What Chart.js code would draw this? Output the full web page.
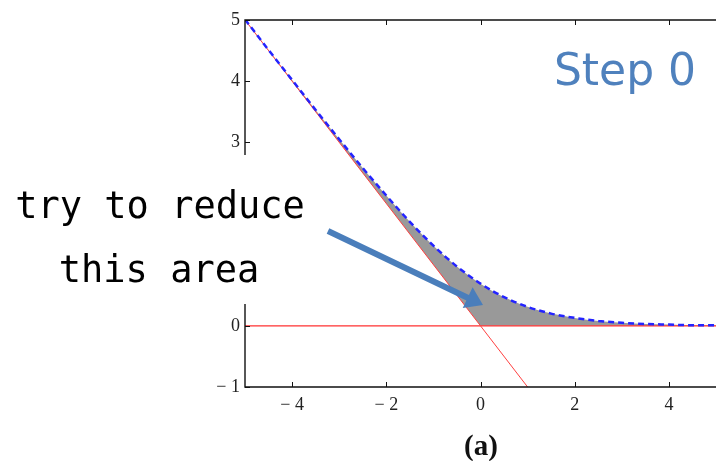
<!DOCTYPE html>
<html>
<head>
<meta charset="utf-8">
<script src="https://cdn.jsdelivr.net/npm/chart.js@4"></script>
<style>
  html, body { margin: 0; padding: 0; background: #fff; }
  #wrap { width: 716px; height: 461px; }
</style>
</head>
<body>
<div id="wrap"><canvas id="chart" width="716" height="461"></canvas></div>
<script>
// x positions where the curve was read
const xs = [-5, -4.5, -4, -3.5, -3, -2.5, -2, -1.5, -1, -0.5, 0, 0.5, 1, 1.5, 2, 2.5, 3, 3.5, 4, 4.5, 5];
// blue dashed curve (smooth loss)
const curveY = [5.01, 4.51, 4.02, 3.53, 3.05, 2.58, 2.13, 1.70, 1.31, 0.97, 0.69, 0.47, 0.31, 0.20, 0.13, 0.08, 0.05, 0.03, 0.02, 0.01, 0.01];
// lower edge of the grey area (hinge)
const hingeY = [5, 4.5, 4, 3.5, 3, 2.5, 2, 1.5, 1, 0.5, 0, 0, 0, 0, 0, 0, 0, 0, 0, 0, 0];
// red diagonal line
const diagX = [-5, 1];
const diagY = [5, -1];
// red zero line
const zeroX = [-5, 5];
const zeroY = [0, 0];
// ticks
const xTicks = [-4, -2, 0, 2, 4];
const yTicks = [-1, 0, 1, 2, 3, 4, 5];

const pts = (a, b) => a.map((v, i) => ({ x: v, y: b[i] }));
const fmt = (v) => v < 0 ? '\u2212 ' + Math.abs(v) : String(v);

const frame = {
    id: 'frame',
    afterDraw(chart) {
        const { ctx, chartArea: a, scales } = chart;
        ctx.save();
        // axes box (top, left, bottom)
        ctx.strokeStyle = '#111';
        ctx.lineWidth = 1.4;
        ctx.beginPath();
        ctx.moveTo(a.right + 2, a.top); ctx.lineTo(a.left, a.top);
        ctx.lineTo(a.left, a.bottom); ctx.lineTo(a.right + 2, a.bottom);
        ctx.stroke();
        ctx.lineWidth = 1;
        ctx.beginPath();
        xTicks.forEach(v => {
            const px = Math.round(scales.x.getPixelForValue(v)) + 0.5;
            ctx.moveTo(px, a.bottom); ctx.lineTo(px, a.bottom - 5);
            ctx.moveTo(px, a.top); ctx.lineTo(px, a.top + 5);
        });
        yTicks.forEach(v => {
            const py = Math.round(scales.y.getPixelForValue(v)) + 0.5;
            ctx.moveTo(a.left, py); ctx.lineTo(a.left + 5, py);
        });
        ctx.stroke();

        // white text box hiding part of the y axis
        ctx.fillStyle = '#fff';
        ctx.fillRect(0, 155, 336, 149);

        ctx.fillStyle = '#000';
        ctx.textAlign = 'center';
        ctx.textBaseline = 'alphabetic';
        ctx.font = '37px "DejaVu Sans Mono"';
        ctx.fillText('try to reduce', 160, 218);
        ctx.fillText('this area', 159, 282);

        ctx.fillStyle = '#4f81bd';
        ctx.font = '44px "DejaVu Sans"';
        ctx.fillText('Step 0', 625, 85);

        ctx.fillStyle = '#111';
        ctx.font = 'bold 29px "Liberation Serif"';
        ctx.fillText('(a)', 481, 455);

        // arrow
        const sx = 328, sy = 231, tx = 483, ty = 305;
        const dx = tx - sx, dy = ty - sy, len = Math.hypot(dx, dy);
        const ux = dx / len, uy = dy / len, nx = -uy, ny = ux;
        const hl = 17, hw = 11.5, sw = 3;
        const bx = tx - ux * hl, by = ty - uy * hl;
        ctx.fillStyle = '#4a7ebb';
        ctx.beginPath();
        ctx.moveTo(sx + nx * sw, sy + ny * sw);
        ctx.lineTo(bx + nx * sw, by + ny * sw);
        ctx.lineTo(bx + nx * hw, by + ny * hw);
        ctx.lineTo(tx, ty);
        ctx.lineTo(bx - nx * hw, by - ny * hw);
        ctx.lineTo(bx - nx * sw, by - ny * sw);
        ctx.lineTo(sx - nx * sw, sy - ny * sw);
        ctx.closePath();
        ctx.fill();
        ctx.restore();
    }
};

new Chart(document.getElementById('chart'), {
    type: 'line',
    data: {
        datasets: [
            {
                data: pts(xs, curveY),
                borderColor: '#2424ff',
                borderWidth: 2.5,
                borderDash: [6, 4],
                cubicInterpolationMode: 'monotone',
                pointRadius: 0,
                fill: { target: 3 },
                backgroundColor: '#999999'
            },
            {
                data: pts(diagX, diagY),
                borderColor: '#ff4040',
                borderWidth: 1,
                pointRadius: 0,
                fill: false
            },
            {
                data: pts(zeroX, zeroY),
                borderColor: '#ff3030',
                borderWidth: 1.3,
                pointRadius: 0,
                fill: false
            },
            {
                data: pts(xs, hingeY),
                borderColor: 'rgba(0,0,0,0)',
                borderWidth: 0,
                pointRadius: 0,
                fill: false
            }
        ]
    },
    options: {
        responsive: false,
        animation: false,
        layout: { padding: { top: 20, right: 0, left: 0, bottom: 0 } },
        plugins: {
            legend: { display: false },
            tooltip: { enabled: false },
            filler: { drawTime: 'beforeDatasetsDraw' }
        },
        scales: {
            x: {
                type: 'linear',
                min: -5,
                max: 5,
                afterBuildTicks: (s) => { s.ticks = xTicks.map(v => ({ value: v })); },
                afterFit: (s) => { s.height = 74; },
                grid: { display: false, drawTicks: false },
                border: { display: false },
                ticks: {
                    padding: 7,
                    color: '#222',
                    font: { family: '"Liberation Serif"', size: 18 },
                    callback: fmt
                }
            },
            y: {
                type: 'linear',
                min: -1,
                max: 5,
                afterBuildTicks: (s) => { s.ticks = yTicks.map(v => ({ value: v })); },
                afterFit: (s) => { s.width = 245; },
                grid: { display: false, drawTicks: false },
                border: { display: false },
                ticks: {
                    padding: 5,
                    color: '#222',
                    font: { family: '"Liberation Serif"', size: 18 },
                    callback: fmt
                }
            }
        }
    },
    plugins: [frame]
});
</script>
</body>
</html>
